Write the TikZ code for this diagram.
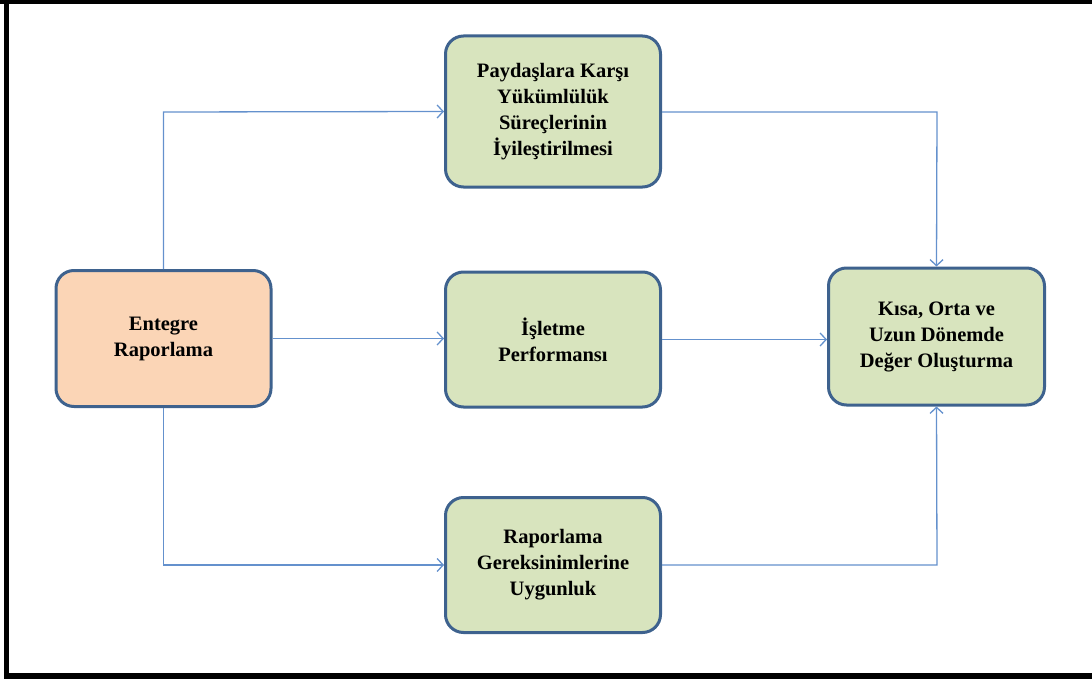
\documentclass[tikz,border=0pt]{standalone}
\usepackage{fontspec}
\setmainfont{Liberation Serif}
\usetikzlibrary{arrows.meta}
\definecolor{boxline}{RGB}{62,98,142}
\definecolor{boxgreen}{RGB}{216,228,190}
\definecolor{boxorange}{RGB}{251,213,182}
\definecolor{conn}{RGB}{100,145,205}
\tikzset{
  procbox/.style={draw=boxline, line width=3pt, rounded corners=18pt, fill=boxgreen,
    align=center, font=\bfseries\fontsize{20.5}{26}\selectfont, inner sep=0pt},
  connector/.style={draw=conn, line width=1.3pt, -{Straight Barb[length=6pt,width=13pt,line width=1.3pt]}},
}
\begin{document}
\begin{tikzpicture}[x=1pt,y=-1pt]
\useasboundingbox (0,0) rectangle (1092,682);
% frame
\fill[black] (0,0) rectangle (1092,4);
\fill[black] (4,0) rectangle (9,679);
\fill[black] (4,673) rectangle (1092,679);
% boxes
\node[procbox, fill=boxorange, minimum width=215pt, minimum height=136pt] (ent) at (163.5,338.5) {Entegre\\Raporlama};
\node[procbox, minimum width=215pt, minimum height=151pt] (pay) at (553,111.5) {Paydaşlara Karşı\\Yükümlülük\\Süreçlerinin\\İyileştirilmesi};
\node[procbox, minimum width=215pt, minimum height=135pt] (isl) at (553,339.5) {İşletme\\Performansı};
\node[procbox, minimum width=215pt, minimum height=135pt] (rap) at (553,565) {Raporlama\\Gereksinimlerine\\Uygunluk};
\node[procbox, minimum width=216pt, minimum height=137pt] (kis) at (936.5,336.5) {Kısa, Orta ve\\Uzun Dönemde\\Değer Oluşturma};
% connectors
\coordinate (c1) at (163.5,112);
\coordinate (c2) at (163.5,565);
\coordinate (c3) at (937,112);
\coordinate (c4) at (937,565);
\draw[connector] (ent.north) -- (c1) -- (pay.west);
\draw[connector] (ent.south) -- (c2) -- (rap.west);
\draw[connector] (ent.east) -- (ent.east -| isl.west);
\draw[connector] (isl.east) -- (isl.east -| kis.west);
\draw[connector] (pay.east |- c3) -- (c3) -- (kis.north);
\draw[connector] (rap.east |- c4) -- (c4) -- (kis.south);
\end{tikzpicture}
\end{document}
